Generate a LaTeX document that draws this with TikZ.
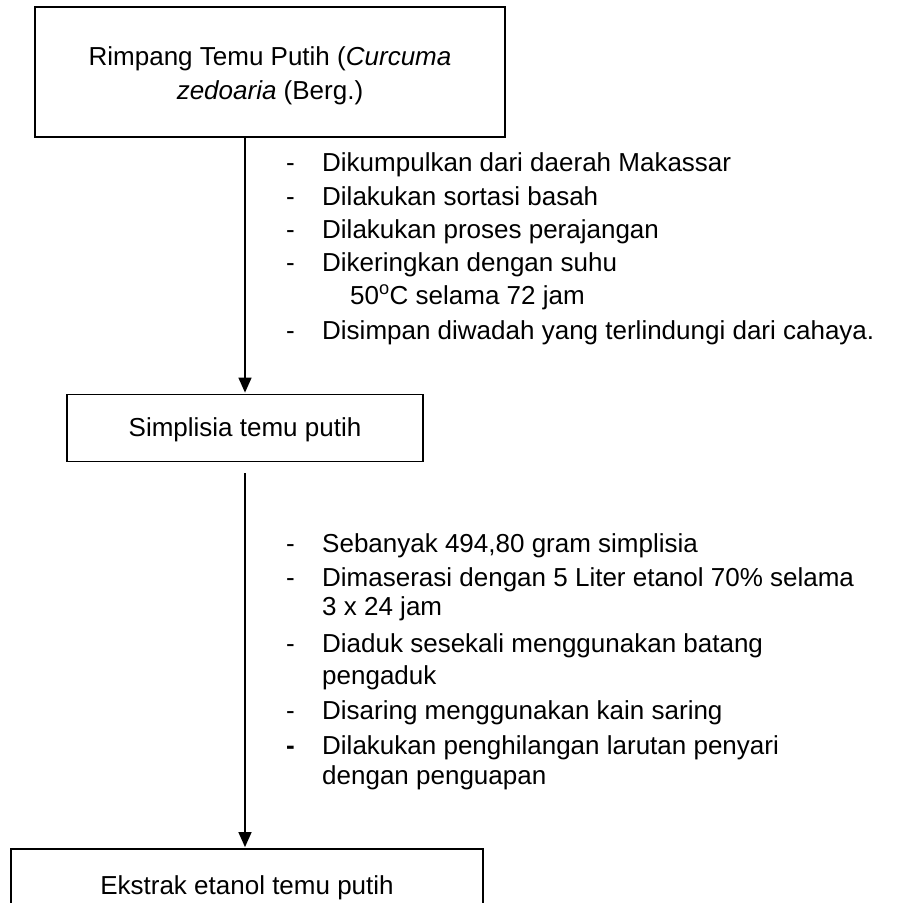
\documentclass[tikz,border=0pt]{standalone}
\usepackage{fontspec}
\setmainfont{Liberation Sans}
\usetikzlibrary{arrows.meta}

\begin{document}
\begin{tikzpicture}[x=1pt, y=-1pt,
    >={Triangle[width=13pt,length=15pt]},
    every node/.style={font=\fontsize{26}{34}\selectfont},
    box/.style={draw, line width=1.8pt, align=center, inner sep=0pt},
    flow/.style={->, line width=1.4pt, shorten >=1pt},
    item/.style={anchor=base west, inner sep=0pt}]

  \clip (0,0) rectangle (901,903);

  \node[box, minimum width=470pt, minimum height=130pt] (rimpang) at (270,72)
    {\rule{0pt}{27pt}Rimpang Temu Putih (\textit{Curcuma}\\\textit{zedoaria} (Berg.)};
  \node[box, minimum width=356pt, minimum height=67pt, text height=23pt] (simplisia) at (245,428)
    {Simplisia temu putih};
  \node[box, minimum width=472pt, minimum height=66pt, text height=30pt] (ekstrak) at (247,882)
    {Ekstrak etanol temu putih};

  \draw[flow] (rimpang.south -| simplisia.north) -- (simplisia.north);
  \draw[flow] ([yshift=-11pt]simplisia.south) -- (ekstrak.north -| simplisia.south);

  % pembuatan simplisia
  \foreach \y [count=\n] in {171,205,238,271,339}
    \node[item] (da\n) at (286,\y) {-};
  \foreach \y/\x/\t [count=\n] in {171/322/{Dikumpulkan dari daerah Makassar},
      205/322/{Dilakukan sortasi basah},
      238/322/{Dilakukan proses perajangan},
      271/322/{Dikeringkan dengan suhu},
      304/350/{50\textsuperscript{o}C selama 72 jam},
      339/322/{Disimpan diwadah yang terlindungi dari cahaya.}}
    \node[item] (la\n) at (\x,\y) {\t};

  % ekstraksi
  \foreach \y [count=\n] in {552,586,652,719}
    \node[item] (db\n) at (286,\y) {-};
  \node[item] (db5) at (286,754) {\textbf{-}};
  \foreach \y/\t [count=\n] in {552/{Sebanyak 494,80 gram simplisia},
      586/{Dimaserasi dengan 5 Liter etanol 70\% selama},
      615/{3 x 24 jam},
      652/{Diaduk sesekali menggunakan batang},
      684/{pengaduk},
      719/{Disaring menggunakan kain saring},
      754/{Dilakukan penghilangan larutan penyari},
      784/{dengan penguapan}}
    \node[item] (lb\n) at (322,\y) {\t};
\end{tikzpicture}
\end{document}
